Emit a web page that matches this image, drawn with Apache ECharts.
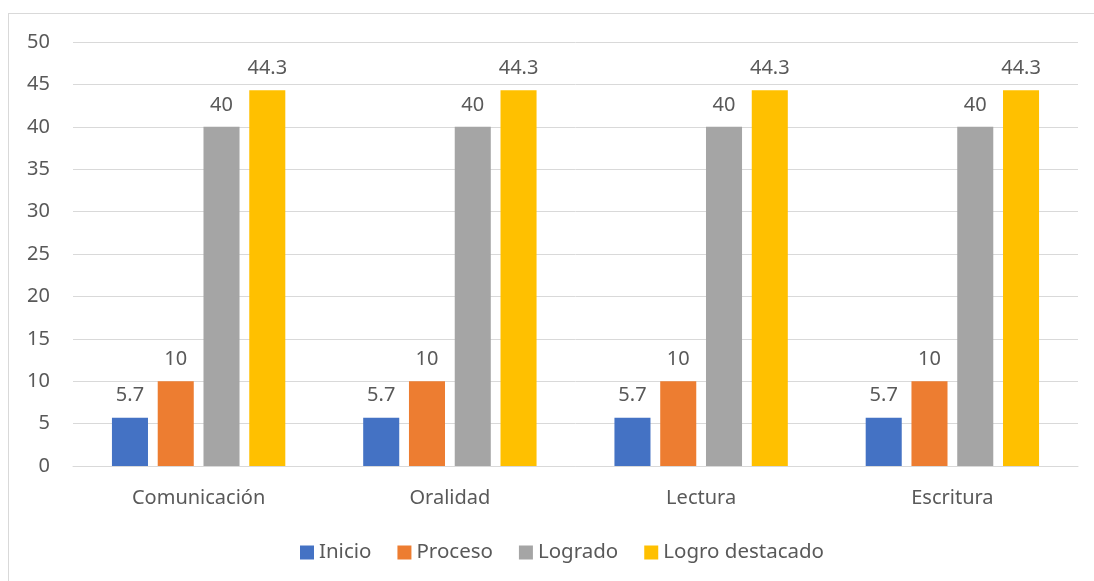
<!DOCTYPE html>
<html><head><meta charset="utf-8">
<script src="https://cdn.jsdelivr.net/npm/echarts@6/dist/echarts.min.js"></script>
<style>html,body{margin:0;padding:0;background:#fff}#c{width:1094px;height:581px}
#frame{position:absolute;left:8px;top:13px;width:1100px;height:580px;border:1px solid #d9d9d9;box-sizing:border-box;pointer-events:none}</style>
</head><body><div id="c"></div><div id="frame"></div>
<script>
const categories = ['Comunicación','Oralidad','Lectura','Escritura'];
const inicio = [5.7,5.7,5.7,5.7];
const proceso = [10,10,10,10];
const logrado = [40,40,40,40];
const logroDestacado = [44.3,44.3,44.3,44.3];
const seriesNames = ['Inicio','Proceso','Logrado','Logro destacado'];
const colors = ['#4472c4','#ed7d31','#a5a5a5','#ffc000'];
const font = 'Noto Sans';
const txt = '#595959';
const chart = echarts.init(document.getElementById('c'));
const mk = (name, data, i) => ({
  name, type:'bar', data, itemStyle:{color:colors[i]},
  barGap:'27%', barCategoryGap:'31%',
  label:{show:true, position:'top', distance:12, color:txt, fontFamily:font, fontSize:20}
});
chart.setOption({
  animation:false,
  color:colors,
  grid:{left:73, right:16, top:42, bottom:115, containLabel:false},
  legend:{bottom:13, left:295, itemWidth:14, itemHeight:14, itemGap:26,
    icon:'rect', textStyle:{color:txt, fontFamily:font, fontSize:20.5},
    data:seriesNames},
  xAxis:{type:'category', data:categories,
    axisLine:{lineStyle:{color:'#d9d9d9', width:1}}, axisTick:{show:false},
    axisLabel:{color:txt, fontFamily:font, fontSize:20, margin:22}},
  yAxis:{type:'value', min:0, max:50, interval:5,
    axisLine:{show:false}, axisTick:{show:false},
    splitLine:{lineStyle:{color:'#d9d9d9', width:1}},
    axisLabel:{color:txt, fontFamily:font, fontSize:20, margin:23}},
  series:[mk(seriesNames[0],inicio,0), mk(seriesNames[1],proceso,1), mk(seriesNames[2],logrado,2), mk(seriesNames[3],logroDestacado,3)]
});
</script></body></html>
